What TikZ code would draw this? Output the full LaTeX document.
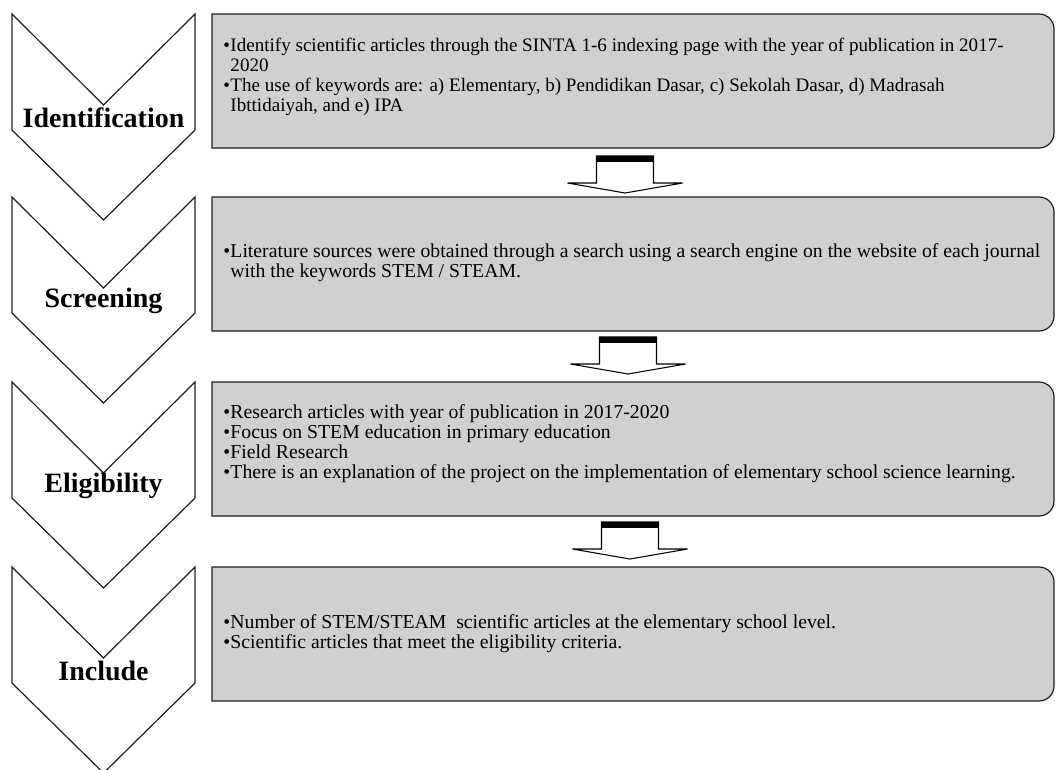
\documentclass[tikz,border=0pt]{standalone}
\usepackage{fontspec}
\setmainfont{Liberation Serif}
\usetikzlibrary{calc}
\definecolor{boxgray}{RGB}{208,208,208}
\definecolor{lineblack}{RGB}{30,30,30}
\newcommand{\bl}{\makebox[5.4pt][l]{•}}
\newcommand{\hg}{\hspace*{5.4pt}}
\begin{document}
\begin{tikzpicture}[x=0.75pt,y=-0.75pt,
  chevronline/.style={draw=lineblack,line width=0.9pt,fill=white,line join=miter},
  boxline/.style={draw=lineblack,line width=0.9pt,fill=boxgray},
  arrowline/.style={draw=black,line width=0.8pt,fill=white,line join=miter},
  steplabel/.style={font=\fontsize{21}{24}\selectfont\bfseries,anchor=center,inner sep=0pt},
  boxtext/.style={font=\fontsize{14.8}{15}\selectfont,align=left,anchor=west,inner sep=0pt},
  boxtextsmall/.style={boxtext,font=\fontsize{14.3}{15}\selectfont}]
\useasboundingbox (0,0) rectangle (1056,769);

% chevrons
\foreach \T/\lab/\nm in {14/Identification/l1, 197/Screening/l2, 382/Eligibility/l3, 567/Include/l4}{
  \draw[chevronline] (12,\T) -- (103.5,\T+91) -- (195,\T) -- (195,\T+116) -- (103.5,\T+206) -- (12,\T+116) -- cycle;
  \node[steplabel] (\nm) at (103.5,\T+104) {\lab};
}

% boxes
\foreach \T/\nm in {14/g1, 197/g2, 382/g3, 567/g4}{
  \draw[boxline] (212,\T) -- (1039,\T) arc[start angle=90,end angle=0,radius=11.25pt]
     -- (1054,\T+119) arc[start angle=0,end angle=-90,radius=11.25pt] -- (212,\T+134) -- cycle;
  \coordinate (\nm top) at (633,\T);
  \coordinate (\nm bot) at (633,\T+134);
}

\node[boxtextsmall] (t1) at (223,14+63) {\bl Identify scientific articles through the SINTA 1-6 indexing page with the year of publication in 2017-\\
\hg 2020\\
\bl The use of keywords are: a) Elementary, b) Pendidikan Dasar, c) Sekolah Dasar, d) Madrasah\\
\hg Ibttidaiyah, and e) IPA};

\node[boxtext] (t2) at (223,197+66) {\bl Literature sources were obtained through a search using a search engine on the website of each journal\\
\hg with the keywords STEM / STEAM.};

\node[boxtext] (t3) at (223,382+62) {\bl Research articles with year of publication in 2017-2020\\
\bl Focus on STEM education in primary education\\
\bl Field Research\\
\bl There is an explanation of the project on the implementation of elementary school science learning.};

\node[boxtext] (t4) at (223,567+67) {\bl Number of STEM/STEAM\ \ scientific articles at the elementary school level.\\
\bl Scientific articles that meet the eligibility criteria.};

% block arrows between boxes
\foreach \src/\dx/\dy in {g1/-8/8, g2/-5/6, g3/-3/6}{
  \begin{scope}[shift={($(\src bot)+(\dx,\dy)$)}]
    \draw[arrowline] (-28.5,0) -- (-28.5,27) -- (-57.5,27) -- (0,37) -- (57.5,27) -- (28.5,27) -- (28.5,0) -- cycle;
    \fill[black] (-28.5,0) rectangle (28.5,5.5);
  \end{scope}
}
\end{tikzpicture}
\end{document}
